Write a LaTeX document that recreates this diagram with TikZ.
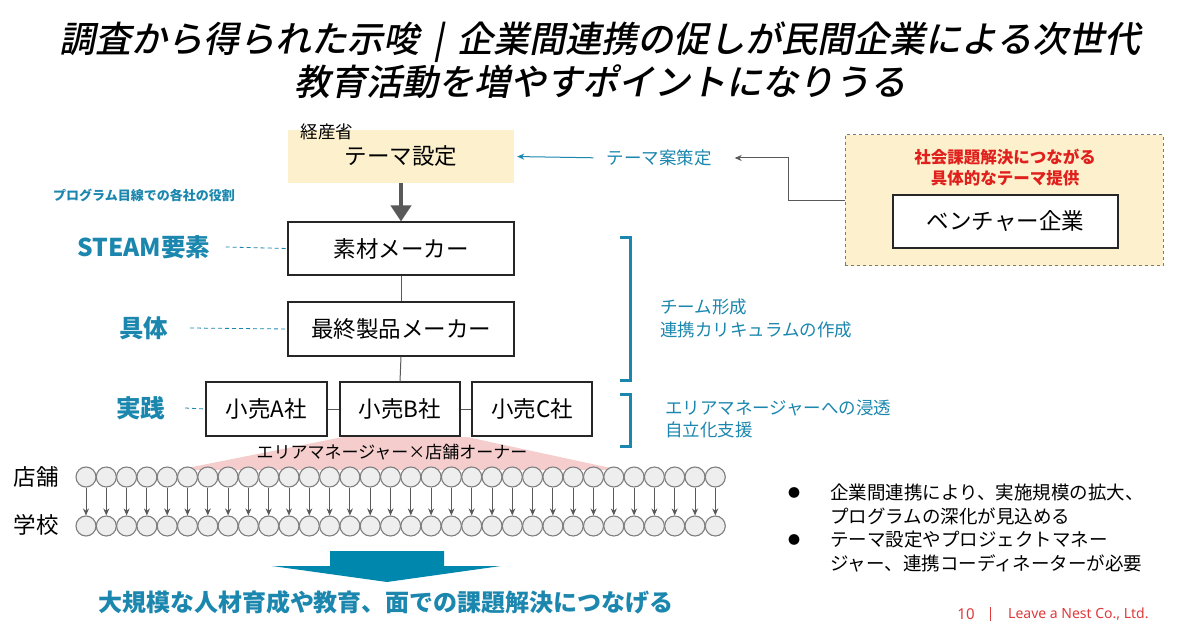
\documentclass[tikz,border=0pt]{standalone}
\usepackage{fontspec}
\setmainfont{Noto Sans CJK JP}
\IfFontExistsTF{Noto Sans CJK JP Medium}
  {\newfontfamily\titlefont{Noto Sans CJK JP Medium}[FakeSlant=0.2]\newcommand\titleweight{}}
  {\newfontfamily\titlefont{Noto Sans CJK JP}[FakeSlant=0.2]\newcommand\titleweight{\bfseries}}
\newfontfamily\latinfont{Noto Sans}
\usetikzlibrary{arrows.meta}
\definecolor{tealc}{HTML}{1B87AE}
\definecolor{beigec}{HTML}{FDF0CD}
\definecolor{pinkc}{HTML}{F5CDCD}
\definecolor{redc}{HTML}{E0201C}
\definecolor{footred}{HTML}{E03A3A}
\definecolor{circfill}{HTML}{EEEEEE}
\definecolor{circdraw}{HTML}{7F7F7F}
\definecolor{darkg}{HTML}{595959}
\definecolor{arrowteal}{HTML}{0087AE}
\tikzset{
  box/.style={draw=black!85, line width=1.1pt, fill=white, inner sep=0pt, font=\fontsize{22.5}{26}\selectfont},
  plain/.style={inner sep=0pt},
  tlabel/.style={inner sep=0pt, text=tealc},
  biglabel/.style={inner sep=0pt, text=tealc, font=\bfseries\fontsize{24.5}{28}\selectfont},
  dashlink/.style={draw=tealc, line width=0.8pt, dash pattern=on 4pt off 3pt},
  conn/.style={draw=darkg, line width=1pt},
  circ/.style={circle, minimum size=20pt, inner sep=0pt, fill=circfill, draw=circdraw, line width=1.1pt},
  smallarrow/.style={draw=darkg, line width=0.9pt, -{Stealth[length=7pt,width=6pt]}},
  bracket/.style={draw=tealc, line width=3pt},
  titlestyle/.style={inner sep=0pt, font=\titlefont\titleweight\fontsize{36}{40}\selectfont},
}
\begin{document}
\begin{tikzpicture}[x=1pt,y=-1pt]
\useasboundingbox (0,0) rectangle (1200,631);
\fill[white] (0,0) rectangle (1200,631);

% title
\node[titlestyle] (title1) at (600,42) {調査から得られた示唆\kern14pt{\mdseries|}\kern14pt 企業間連携の促しが民間企業による次世代};
\node[titlestyle] (title2) at (600,82) {教育活動を増やすポイントになりうる};

% theme box
\node[plain, fill=beigec, minimum width=226pt, minimum height=53pt, font=\fontsize{22.5}{26}\selectfont] (theme) at (401,156.5) {テーマ設定};
\node[plain, font=\fontsize{17.5}{20}\selectfont] (keisan) at (327,132) {経産省};

% main boxes
\node[box, minimum width=226pt, minimum height=53pt] (sozai) at (401,248.5) {素材メーカー};
\node[box, minimum width=226pt, minimum height=54pt] (saishu) at (401,329) {最終製品メーカー};
\node[box, minimum width=121pt, minimum height=54pt] (kA) at (266.5,409) {小売A社};
\node[box, minimum width=120pt, minimum height=54pt] (kB) at (400,409) {小売B社};
\node[box, minimum width=120pt, minimum height=54pt] (kC) at (532,409) {小売C社};

\draw[draw=darkg, line width=4pt, -{Triangle[width=20pt,length=16pt]}] (theme.south) -- (sozai.north);
\draw[conn] (sozai.south) -- (saishu.north);
\draw[conn] (saishu.south) -- (kB.north);
\draw[conn] (kA.east) -- (kB.west);
\draw[conn] (kB.east) -- (kC.west);

% left labels
\node[tlabel, font=\bfseries\fontsize{13}{16}\selectfont] (prog) at (144,195) {プログラム目線での各社の役割};
\node[biglabel] (steam) at (144,247) {STEAM要素};
\node[biglabel] (gutai) at (143.5,328) {具体};
\node[biglabel] (jissen) at (140.5,408) {実践};
\draw[dashlink] ([xshift=15pt]steam.east) -- (sozai.west);
\draw[dashlink] ([xshift=22pt]gutai.east) -- (saishu.west);
\draw[dashlink] ([xshift=20pt]jissen.east) -- (kA.west);

% right top
\node[tlabel, font=\fontsize{17.5}{20}\selectfont] (anmei) at (659,158) {テーマ案策定};
\draw[draw=tealc, line width=1pt, -{Stealth[length=7pt,width=6pt]}, shorten <=13pt, shorten >=3pt] (anmei.west) -- (theme.east);
\node[plain, fill=beigec, draw=darkg!80, dashed, line width=1pt, minimum width=318pt, minimum height=131pt] (outer) at (1004,200.5) {};
\node[plain, text=redc, align=center, font=\bfseries\fontsize{16.5}{21}\selectfont] (redt) at (1005,167.5) {社会課題解決につながる\\具体的なテーマ提供};
\node[box, minimum width=225pt, minimum height=53pt] (venture) at (1005.5,221.5) {ベンチャー企業};
\draw[draw=darkg, line width=1pt, -{Stealth[length=7pt,width=6pt]}] (outer.west) -- ++(-56,0) |- ([xshift=23pt]anmei.east);

% brackets
\draw[bracket] (620,238) -- (630,238) -- (630,380) -- (620,380);
\draw[bracket] (620,394) -- (630,394) -- (630,446) -- (620,446);
\node[tlabel, anchor=west, align=left, font=\fontsize{17.5}{23}\selectfont] (team) at (660,318.5) {チーム形成\\連携カリキュラムの作成};
\node[tlabel, anchor=west, align=left, font=\fontsize{17.5}{22}\selectfont] (area) at (665,419) {エリアマネージャーへの浸透\\自立化支援};

% pink trapezoid and circles
\fill[pinkc] (343,437) -- (467,437) -- (620,470) -- (177,470) -- cycle;
\node[plain, font=\fontsize{17}{20}\selectfont] (areamgr) at (392,452) {エリアマネージャー×店舗オーナー};
\foreach \i in {0,...,31} {
  \node[circ] (t\i) at (86+20.3*\i,477) {};
  \node[circ] (b\i) at (86+20.3*\i,526) {};
  \draw[smallarrow] (t\i) -- (b\i);
}
\node[plain, font=\fontsize{22.5}{26}\selectfont] (tenpo) at (36,477) {店舗};
\node[plain, font=\fontsize{22.5}{26}\selectfont] (gakko) at (36,525) {学校};

% bullets
\node[plain, font=\fontsize{12}{14}\selectfont] (bul1) at (794,493) {●};
\node[plain, font=\fontsize{12}{14}\selectfont] (bul2) at (794,540) {●};
\node[plain, anchor=west, align=left, font=\fontsize{18.5}{23.5}\selectfont] (btext1) at (830,504.5) {企業間連携により、実施規模の拡大、\\プログラムの深化が見込める};
\node[plain, anchor=west, align=left, font=\fontsize{18.5}{23.5}\selectfont] (btext2) at (830,551.5) {テーマ設定やプロジェクトマネー\\ジャー、連携コーディネーターが必要};

% big arrow
\fill[arrowteal] (330,551) -- (444,551) -- (444,566) -- (501,566) -- (387,582) -- (272,566) -- (330,566) -- cycle;
\node[tlabel, font=\bfseries\fontsize{24}{28}\selectfont] (concl) at (386,602) {大規模な人材育成や教育、面での課題解決につなげる};

% footer
\node[plain, text=footred, font=\latinfont\fontsize{15}{18}\selectfont] (pagenum) at (966,614) {10};
\draw[draw=footred, line width=0.8pt] (990,607) -- (990,621);
\node[plain, anchor=west, text=footred, font=\latinfont\fontsize{14}{17}\selectfont] (footer) at (1008,614) {Leave a Nest Co., Ltd.};
\end{tikzpicture}
\end{document}
